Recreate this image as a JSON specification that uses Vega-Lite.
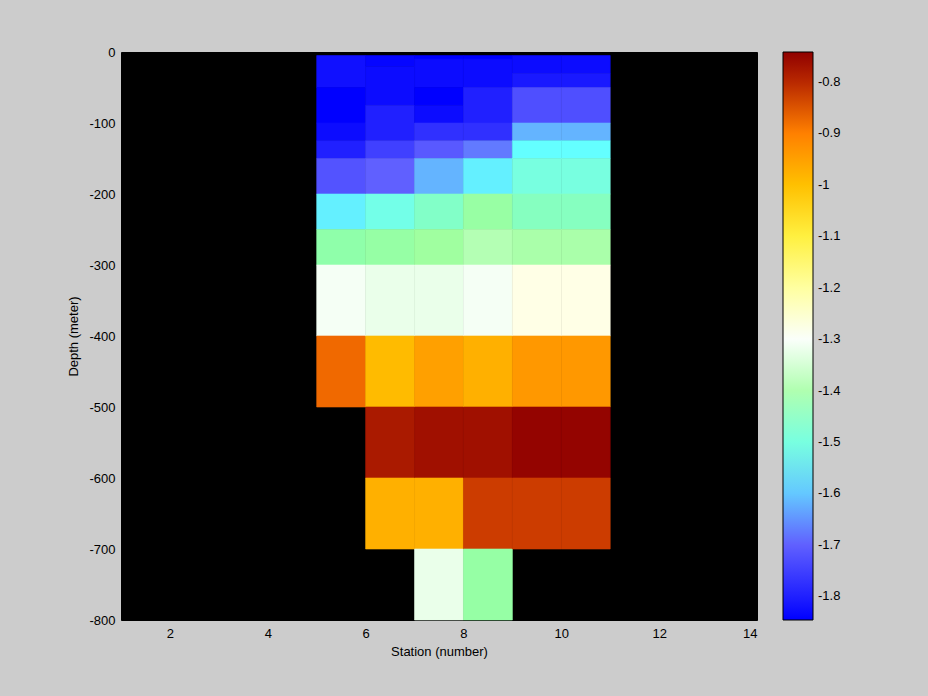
{
  "$schema": "https://vega.github.io/schema/vega-lite/v6.json",
  "width": 636,
  "height": 568,
  "autosize": {"type": "none"},
  "padding": {"left": 121, "top": 52, "right": 171, "bottom": 76},
  "background": "#cccccc",
  "view": {"fill": "black", "stroke": "black", "strokeWidth": 1},
  "config": {
    "font": "Liberation Sans",
    "axis": {"labelFont": "Liberation Sans", "titleFont": "Liberation Sans", "labelFontSize": 13, "titleFontSize": 13, "titleFontWeight": "normal", "labelColor": "black", "titleColor": "black", "domainColor": "black", "grid": false, "ticks": false},
    "legend": {"labelFont": "Liberation Sans", "labelFontSize": 13, "labelColor": "black"}
  },
  "data": {
    "values": [
      {"s0": 5, "s1": 6, "d0": -5, "d1": -50, "v": -1.823},
      {"s0": 5, "s1": 6, "d0": -50, "d1": -100, "v": -1.846},
      {"s0": 5, "s1": 6, "d0": -100, "d1": -125, "v": -1.829},
      {"s0": 5, "s1": 6, "d0": -125, "d1": -150, "v": -1.8},
      {"s0": 5, "s1": 6, "d0": -150, "d1": -200, "v": -1.727},
      {"s0": 5, "s1": 6, "d0": -200, "d1": -250, "v": -1.571},
      {"s0": 5, "s1": 6, "d0": -250, "d1": -300, "v": -1.452},
      {"s0": 5, "s1": 6, "d0": -300, "d1": -400, "v": -1.309},
      {"s0": 5, "s1": 6, "d0": -400, "d1": -500, "v": -0.876},

      {"s0": 6, "s1": 7, "d0": -5, "d1": -20, "v": -1.837},
      {"s0": 6, "s1": 7, "d0": -20, "d1": -75, "v": -1.829},
      {"s0": 6, "s1": 7, "d0": -75, "d1": -125, "v": -1.8},
      {"s0": 6, "s1": 7, "d0": -125, "d1": -150, "v": -1.76},
      {"s0": 6, "s1": 7, "d0": -150, "d1": -200, "v": -1.7},
      {"s0": 6, "s1": 7, "d0": -200, "d1": -250, "v": -1.516},
      {"s0": 6, "s1": 7, "d0": -250, "d1": -300, "v": -1.439},
      {"s0": 6, "s1": 7, "d0": -300, "d1": -400, "v": -1.33},
      {"s0": 6, "s1": 7, "d0": -400, "d1": -500, "v": -0.992},
      {"s0": 6, "s1": 7, "d0": -500, "d1": -600, "v": -0.78},
      {"s0": 6, "s1": 7, "d0": -600, "d1": -700, "v": -0.975},

      {"s0": 7, "s1": 8, "d0": -5, "d1": -10, "v": -1.846},
      {"s0": 7, "s1": 8, "d0": -10, "d1": -50, "v": -1.829},
      {"s0": 7, "s1": 8, "d0": -50, "d1": -75, "v": -1.846},
      {"s0": 7, "s1": 8, "d0": -75, "d1": -100, "v": -1.829},
      {"s0": 7, "s1": 8, "d0": -100, "d1": -125, "v": -1.78},
      {"s0": 7, "s1": 8, "d0": -125, "d1": -150, "v": -1.715},
      {"s0": 7, "s1": 8, "d0": -150, "d1": -200, "v": -1.619},
      {"s0": 7, "s1": 8, "d0": -200, "d1": -250, "v": -1.479},
      {"s0": 7, "s1": 8, "d0": -250, "d1": -300, "v": -1.42},
      {"s0": 7, "s1": 8, "d0": -300, "d1": -400, "v": -1.33},
      {"s0": 7, "s1": 8, "d0": -400, "d1": -500, "v": -0.95},
      {"s0": 7, "s1": 8, "d0": -500, "d1": -600, "v": -0.765},
      {"s0": 7, "s1": 8, "d0": -600, "d1": -700, "v": -0.975},
      {"s0": 7, "s1": 8, "d0": -700, "d1": -800, "v": -1.33},

      {"s0": 8, "s1": 9, "d0": -5, "d1": -10, "v": -1.846},
      {"s0": 8, "s1": 9, "d0": -10, "d1": -50, "v": -1.829},
      {"s0": 8, "s1": 9, "d0": -50, "d1": -100, "v": -1.8},
      {"s0": 8, "s1": 9, "d0": -100, "d1": -125, "v": -1.78},
      {"s0": 8, "s1": 9, "d0": -125, "d1": -150, "v": -1.675},
      {"s0": 8, "s1": 9, "d0": -150, "d1": -200, "v": -1.571},
      {"s0": 8, "s1": 9, "d0": -200, "d1": -250, "v": -1.435},
      {"s0": 8, "s1": 9, "d0": -250, "d1": -300, "v": -1.395},
      {"s0": 8, "s1": 9, "d0": -300, "d1": -400, "v": -1.309},
      {"s0": 8, "s1": 9, "d0": -400, "d1": -500, "v": -0.975},
      {"s0": 8, "s1": 9, "d0": -500, "d1": -600, "v": -0.765},
      {"s0": 8, "s1": 9, "d0": -600, "d1": -700, "v": -0.825},
      {"s0": 8, "s1": 9, "d0": -700, "d1": -800, "v": -1.439},

      {"s0": 9, "s1": 10, "d0": -5, "d1": -30, "v": -1.829},
      {"s0": 9, "s1": 10, "d0": -30, "d1": -50, "v": -1.81},
      {"s0": 9, "s1": 10, "d0": -50, "d1": -100, "v": -1.735},
      {"s0": 9, "s1": 10, "d0": -100, "d1": -125, "v": -1.619},
      {"s0": 9, "s1": 10, "d0": -125, "d1": -150, "v": -1.56},
      {"s0": 9, "s1": 10, "d0": -150, "d1": -200, "v": -1.5},
      {"s0": 9, "s1": 10, "d0": -200, "d1": -250, "v": -1.471},
      {"s0": 9, "s1": 10, "d0": -250, "d1": -300, "v": -1.407},
      {"s0": 9, "s1": 10, "d0": -300, "d1": -400, "v": -1.258},
      {"s0": 9, "s1": 10, "d0": -400, "d1": -500, "v": -0.9375},
      {"s0": 9, "s1": 10, "d0": -500, "d1": -600, "v": -0.748},
      {"s0": 9, "s1": 10, "d0": -600, "d1": -700, "v": -0.825},

      {"s0": 10, "s1": 11, "d0": -5, "d1": -30, "v": -1.829},
      {"s0": 10, "s1": 11, "d0": -30, "d1": -50, "v": -1.81},
      {"s0": 10, "s1": 11, "d0": -50, "d1": -100, "v": -1.735},
      {"s0": 10, "s1": 11, "d0": -100, "d1": -125, "v": -1.619},
      {"s0": 10, "s1": 11, "d0": -125, "d1": -150, "v": -1.56},
      {"s0": 10, "s1": 11, "d0": -150, "d1": -200, "v": -1.5},
      {"s0": 10, "s1": 11, "d0": -200, "d1": -250, "v": -1.471},
      {"s0": 10, "s1": 11, "d0": -250, "d1": -300, "v": -1.407},
      {"s0": 10, "s1": 11, "d0": -300, "d1": -400, "v": -1.258},
      {"s0": 10, "s1": 11, "d0": -400, "d1": -500, "v": -0.9375},
      {"s0": 10, "s1": 11, "d0": -500, "d1": -600, "v": -0.748},
      {"s0": 10, "s1": 11, "d0": -600, "d1": -700, "v": -0.825}
    ]
  },
  "mark": {"type": "rect", "strokeWidth": 0.6, "stroke": {"expr": "scale('color', datum.v)"}},
  "encoding": {
    "x": {
      "field": "s0", "type": "quantitative",
      "scale": {"domain": [1, 14], "nice": false, "zero": false},
      "axis": {"title": "Station (number)", "values": [2, 4, 6, 8, 10, 12, 14], "labelPadding": 7, "titlePadding": 5, "domain": false}
    },
    "x2": {"field": "s1"},
    "y": {
      "field": "d0", "type": "quantitative",
      "scale": {"domain": [-800, 0], "nice": false, "zero": false},
      "axis": {"title": "Depth (meter)", "values": [0, -100, -200, -300, -400, -500, -600, -700, -800], "labelPadding": 6, "titlePadding": 8, "domain": false,
        "labelExpr": "datum.value == 0 ? '0' : '-' + format(abs(datum.value), 'd')"}
    },
    "y2": {"field": "d1"},
    "color": {
      "field": "v", "type": "quantitative",
      "scale": {
        "domain": [-1.846, -1.8, -1.75, -1.7, -1.65, -1.6, -1.56, -1.5, -1.45, -1.42, -1.38, -1.33, -1.29, -1.25, -1.2, -1.1, -1.05, -1.0, -0.95, -0.9, -0.85, -0.8, -0.742],
        "range": ["#0000ff", "#2020ff", "#4848ff", "#6060ff", "#6494ff", "#64c8ff", "#64ffff", "#78ffe0", "#90ffa8", "#a0ffa0", "#c0ffc0", "#eaffea", "#ffffff", "#ffffe0", "#ffffa0", "#fff040", "#ffe000", "#ffc000", "#ffa000", "#ff8000", "#e05000", "#b82800", "#900000"],
        "interpolate": "rgb"
      },
      "legend": {
        "title": null,
        "type": "gradient",
        "direction": "vertical",
        "orient": "right",
        "offset": 26,
        "padding": 0,
        "gradientLength": 568,
        "gradientThickness": 30,
        "gradientStrokeColor": "black",
        "gradientStrokeWidth": 1,
        "values": [-0.8, -0.9, -1.0, -1.1, -1.2, -1.3, -1.4, -1.5, -1.6, -1.7, -1.8],
        "labelOverlap": false,
        "labelOffset": 5,
        "labelExpr": "'-' + format(abs(datum.value), '~g')"
      }
    }
  }
}
